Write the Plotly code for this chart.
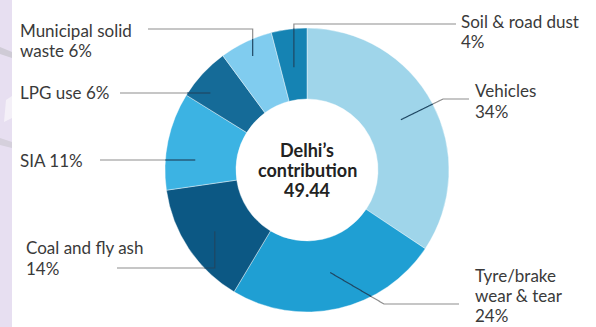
import numpy as np
import plotly.graph_objects as go

# ---------------- data ----------------
labels = ["Vehicles", "Tyre/brake wear & tear", "Coal and fly ash", "SIA",
          "LPG use", "Municipal solid waste", "Soil & road dust"]
values = [34, 24, 14, 11, 6, 6, 4]
label_lines = [["Vehicles", "{}%"], ["Tyre/brake", "wear & tear", "{}%"],
               ["Coal and fly ash", "{}%"], ["SIA {}%"], ["LPG use {}%"],
               ["Municipal solid", "waste {}%"], ["Soil & road dust", "{}%"]]
center_lines = ["Delhi’s", "contribution", "49.44"]
colors = ["#9fd5ea", "#1f9fd3", "#0c5884", "#3cb3e3", "#156b98", "#80ccef", "#1583b3"]

# ---------------- layout geometry (pixels) ----------------
W, H = 596, 327
CX, CY, R = 307, 170, 142
HOLE = 0.5
FONT = "Lato"

fig = go.Figure()

fig.add_trace(go.Pie(
    labels=labels, values=values, sort=False, direction="clockwise", rotation=0,
    hole=HOLE, textinfo="none", hoverinfo="label+percent",
    marker=dict(colors=colors, line=dict(color="rgba(255,255,255,0.5)", width=0.8)),
    domain=dict(x=[(CX - R) / W, (CX + R) / W], y=[1 - (CY + R) / H, 1 - (CY - R) / H]),
    showlegend=False,
))

total = sum(values)
cum = np.cumsum(values)
mid_deg = (cum - np.array(values) / 2) / total * 360.0


def polar_pt(deg, rf):
    a = np.radians(deg)
    return (CX + np.sin(a) * rf * R, CY - np.cos(a) * rf * R)


def horiz_pt(y, rf):
    dx = np.sqrt((rf * R) ** 2 - (y - CY) ** 2)
    return (CX - dx, y)


specs = [
    dict(rf=0.75, kind="diag", tx=473, ty=[90, 111], pts=[(443, 99), (469, 99)]),
    dict(rf=0.74, kind="diag", tx=473, ty=[275, 295, 315], pts=[(384, 304), (459, 304)]),
    dict(rf=0.78, kind="elbow", tx=24, ty=[247, 268], ly=268, lx=117),
    dict(rf=0.79, kind="horiz", tx=18, ty=[160], ly=160, lx=100),
    dict(rf=0.87, kind="horiz", tx=18, ty=[92], ly=93, lx=120),
    dict(rf=0.89, kind="elbow", tx=18, ty=[30, 50], ly=29, lx=148),
    dict(rf=0.73, kind="elbow", tx=459, ty=[21, 41], ly=24, lx=456),
]

shapes = []
dots_x, dots_y = [], []
annotations = []


def to_svg(pts):
    return "M " + " L ".join(f"{x:.2f},{y:.2f}" for x, y in pts)


for i, s in enumerate(specs):
    if s["kind"] == "horiz":
        dot = horiz_pt(s["ly"], s["rf"])
        path = [dot, (s["lx"], s["ly"])]
    elif s["kind"] == "elbow":
        dot = polar_pt(mid_deg[i], s["rf"])
        path = [dot, (dot[0], s["ly"]), (s["lx"], s["ly"])]
    else:
        dot = polar_pt(mid_deg[i], s["rf"])
        path = [dot] + s["pts"]
    dots_x.append(dot[0])
    dots_y.append(dot[1])
    samples = []
    for (x0, y0), (x1, y1) in zip(path[:-1], path[1:]):
        for t in np.linspace(0, 1, 120, endpoint=False):
            samples.append((x0 + (x1 - x0) * t, y0 + (y1 - y0) * t))
    samples.append(path[-1])
    split = len(samples) - 1
    for k, (x, y) in enumerate(samples):
        if np.hypot(x - CX, y - CY) > R:
            split = k
            break
    inner = samples[:split + 1]
    outer = samples[split:]
    if len(outer) > 1:
        shapes.append(dict(type="path", path=to_svg(outer), xref="x", yref="y",
                           line=dict(color="#8e8e8e", width=1.2)))
    if len(inner) > 1:
        shapes.append(dict(type="path", path=to_svg(inner), xref="x", yref="y",
                           line=dict(color="#1f4763", width=1.2)))
    for line, y in zip(label_lines[i], s["ty"]):
        annotations.append(dict(x=s["tx"], y=y, xref="x", yref="y", text=line.format(values[i]),
                                showarrow=False, xanchor="left", yanchor="middle",
                                font=dict(family=FONT, size=17, color="#3a3a3a")))

fig.add_trace(go.Scatter(x=dots_x, y=dots_y, mode="markers", hoverinfo="skip",
                         marker=dict(size=4, color="#1d3c55"), showlegend=False))

for line, y in zip(center_lines, [150, 170, 190]):
    annotations.append(dict(x=CX, y=y, xref="x", yref="y", text=f"<b>{line}</b>",
                            showarrow=False, xanchor="center", yanchor="middle",
                            font=dict(family=FONT, size=18, color="#222222")))

bg_shapes = [
    dict(type="rect", xref="x", yref="y", x0=0, x1=12, y0=0, y1=327,
         fillcolor="#e7dff1", line=dict(width=0), layer="below"),
    dict(type="path", xref="x", yref="y", path="M 0,47 L 12,52 L 12,58 L 0,54 Z",
         fillcolor="#cfcbd6", line=dict(width=0), layer="below"),
    dict(type="path", xref="x", yref="y", path="M 0,138 L 12,142 L 12,148 L 0,145 Z",
         fillcolor="#d5d0dc", line=dict(width=0), layer="below"),
    dict(type="path", xref="x", yref="y", path="M 6,100 L 12,96 L 12,118 L 4,122 Z",
         fillcolor="#f4f0f8", line=dict(width=0), layer="below"),
]

fig.update_layout(
    width=W, height=H, margin=dict(l=0, r=0, t=0, b=0),
    paper_bgcolor="white", plot_bgcolor="rgba(0,0,0,0)",
    xaxis=dict(range=[0, W], visible=False, fixedrange=True),
    yaxis=dict(range=[H, 0], visible=False, fixedrange=True),
    shapes=bg_shapes + shapes, annotations=annotations,
)

fig.write_html("out.html")
